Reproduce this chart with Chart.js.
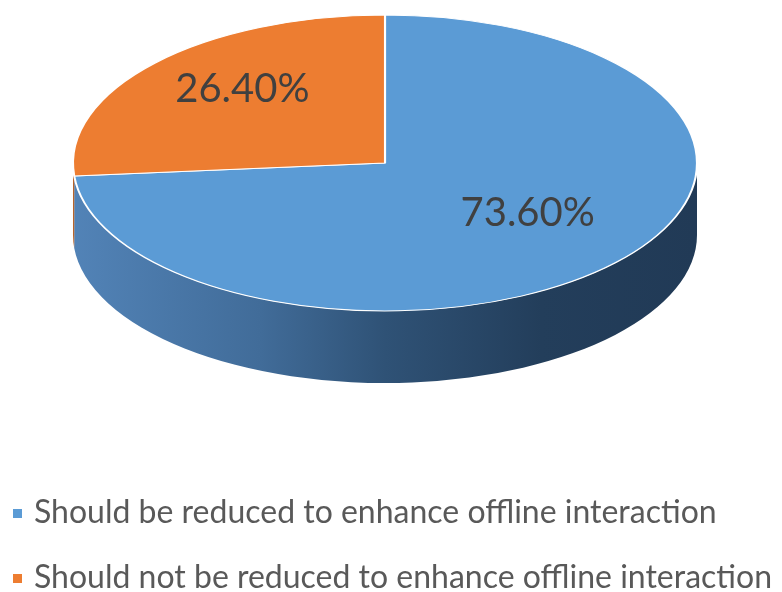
<!DOCTYPE html>
<html>
<head>
<meta charset="utf-8">
<script src="https://cdn.jsdelivr.net/npm/chart.js@4/dist/chart.umd.min.js"></script>
<style>
  html, body { margin: 0; padding: 0; background: #fff; }
  #wrap { width: 782px; height: 592px; position: relative; }
</style>
</head>
<body>
<div id="wrap"><canvas id="pie"></canvas></div>
<script>
// answers and their shares (%)
const answers = [
  'Should be reduced to enhance offline interaction',
  'Should not be reduced to enhance offline interaction'
];
const shares = [73.6, 26.4];
const topColors = ['#5b9bd5', '#ed7d31'];

// tilted-disc look: ellipse of the top face and thickness of the rim
const disc = { cx: 385, cy: 163, rx: 312, ry: 148, depth: 72 };
const rimStops = {
  0: [[0, '#5283b7'], [0.3, '#416c99'], [0.5, '#2f5276'], [0.75, '#233e5b'], [1, '#213a56']],
  1: [[0, '#b8642a'], [1, '#7d4218']]
};

const pie3d = {
  id: 'pie3d',
  beforeDatasetsDraw(chart) {
    const ctx = chart.ctx;
    const arcs = chart.getDatasetMeta(0).data;
    const { cx, cy, rx, ry, depth } = disc;

    // rim: only the front half (0..PI) of each slice is visible
    arcs.forEach((el, i) => {
      const a = Math.max(el.startAngle, 0);
      const b = Math.min(el.endAngle, Math.PI);
      if (b <= a) return;
      const g = ctx.createLinearGradient(cx - rx, 0, cx + rx, 0);
      rimStops[i].forEach(s => g.addColorStop(s[0], s[1]));
      ctx.save();
      ctx.beginPath();
      ctx.ellipse(cx, cy, rx, ry, 0, a, b);
      ctx.ellipse(cx, cy + depth, rx, ry, 0, b, a, true);
      ctx.closePath();
      ctx.fillStyle = g;
      ctx.fill();
      ctx.restore();
    });

    // squash the library's pie onto the top face
    const first = arcs[0];
    const R = first.outerRadius;
    ctx.save();
    ctx.translate(cx, cy);
    ctx.scale(rx / R, ry / R);
    ctx.translate(-first.x, -first.y);
  },
  afterDatasetsDraw(chart) {
    const ctx = chart.ctx;
    ctx.restore();

    // percentage labels
    const { cx, cy, rx, ry } = disc;
    const arcs = chart.getDatasetMeta(0).data;
    ctx.save();
    ctx.font = '40px Lato';
    ctx.fillStyle = '#404040';
    ctx.textAlign = 'center';
    ctx.textBaseline = 'middle';
    arcs.forEach((el, i) => {
      const mid = (el.startAngle + el.endAngle) / 2;
      const f = 0.62;
      ctx.fillText(shares[i].toFixed(2) + '%', cx + f * rx * Math.cos(mid), cy - 12 + f * ry * Math.sin(mid));
    });
    ctx.restore();
  },
  afterDraw(chart) {
    // legend, one entry per line
    const ctx = chart.ctx;
    const colors = chart.data.datasets[0].backgroundColor;
    ctx.save();
    ctx.font = '32px Lato';
    ctx.textBaseline = 'middle';
    chart.data.labels.forEach((txt, i) => {
      const y = 513 + i * 65;
      ctx.fillStyle = colors[i];
      ctx.fillRect(13, y - 4, 9, 9);
      ctx.fillStyle = '#595959';
      ctx.fillText(txt, 34, y);
    });
    ctx.restore();
  }
};

new Chart(document.getElementById('pie'), {
  type: 'pie',
  data: {
    labels: answers,
    datasets: [{
      data: shares,
      backgroundColor: topColors,
      borderColor: '#ffffff',
      borderWidth: 2,
      clip: false
    }]
  },
  options: {
    responsive: true,
    maintainAspectRatio: false,
    animation: false,
    events: [],
    plugins: {
      legend: { display: false },
      tooltip: { enabled: false }
    }
  },
  plugins: [pie3d]
});
</script>
</body>
</html>
